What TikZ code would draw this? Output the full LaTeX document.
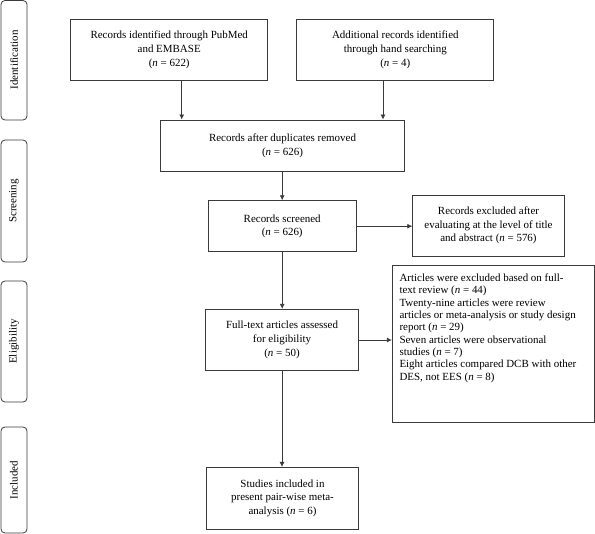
\documentclass[tikz,border=0pt]{standalone}
\usepackage{fontspec}
\setmainfont{Liberation Serif}
\usetikzlibrary{arrows.meta,calc}
\definecolor{ln}{HTML}{3A3A3A}
\begin{document}
\begin{tikzpicture}[x=1bp,y=-1bp,
  box/.style={draw=ln,line width=0.8pt,align=center,inner sep=2pt,
    font=\fontsize{11}{13.7}\selectfont},
  side/.style={draw=ln,line width=0.8pt,rounded corners=4pt},
  sidetext/.style={rotate=90,font=\fontsize{11}{13}\selectfont},
  arr/.style={draw=ln,line width=0.8pt,-{Latex[length=5pt,width=5pt]}}]
\useasboundingbox (0,0) rectangle (595,534);
% side labels
\draw[side] (1,0.5) rectangle (27,120);
\node[sidetext] (lid) at (14,60) {Identification};
\draw[side] (1,140) rectangle (27,262);
\node[sidetext] (lsc) at (14,201) {Screening};
\draw[side] (1,281) rectangle (27,402);
\node[sidetext] (lel) at (14,341.5) {Eligibility};
\draw[side] (1,427) rectangle (27,533);
\node[sidetext] (lin) at (14,480) {Included};
% boxes
\node[box,minimum width=197bp,minimum height=61bp] (b1) at (169.2,49.8)
  {Records identified through PubMed\\and EMBASE\\(\textit{n} = 622)};
\node[box,minimum width=197bp,minimum height=61bp] (b2) at (395.3,49.8)
  {Additional records identified\\through hand searching\\(\textit{n} = 4)};
\node[box,minimum width=243.6bp,minimum height=51.7bp] (b3) at (282.5,145.8)
  {Records after duplicates removed\\(\textit{n} = 626)};
\node[box,minimum width=147.7bp,minimum height=51bp] (b4) at (282.2,226.2)
  {Records screened\\(\textit{n} = 626)};
\node[box,minimum width=151.6bp,minimum height=61bp] (b5) at (488.5,225.5)
  {Records excluded after\\evaluating at the level of title\\and abstract (\textit{n} = 576)};
\node[box,minimum width=152.6bp,minimum height=61.4bp] (b6) at (282,340)
  {Full-text articles assessed\\for eligibility\\(\textit{n} = 50)};
\node[draw=ln,line width=0.8pt,minimum width=202bp,minimum height=157bp] (b7) at (493.3,344.2) {};
\node[anchor=north west,align=left,inner sep=0pt,font=\fontsize{11}{12.4}\selectfont] (b7t) at (399.3,273.5)
  {Articles were excluded based on full-\\text review (\textit{n} = 44)\\Twenty-nine articles were review\\articles or meta-analysis or study design\\report (\textit{n} = 29)\\Seven articles were observational\\studies (\textit{n} = 7)\\Eight articles compared DCB with other\\DES, not EES (\textit{n} = 8)};
\node[box,minimum width=151.6bp,minimum height=61.7bp] (b8) at (282.5,498.2)
  {Studies included in\\present pair-wise meta-\\analysis (\textit{n} = 6)};
% connectors
\coordinate (xa) at (181.7,0);
\coordinate (xb) at (383,0);
\draw[arr] (b1.south -| xa) -- (b3.north -| xa);
\draw[arr] (b2.south -| xb) -- (b3.north -| xb);
\draw[arr] (b3.south -| b4.north) -- (b4.north);
\draw[arr] (b4.east) -- (b5.west |- b4.east);
\draw[arr] (b4.south) -- (b6.north -| b4.south);
\draw[arr] (b6.east) -- (b7.west |- b6.east);
\draw[arr] (b6.south) -- (b8.north -| b6.south);
\end{tikzpicture}
\end{document}
